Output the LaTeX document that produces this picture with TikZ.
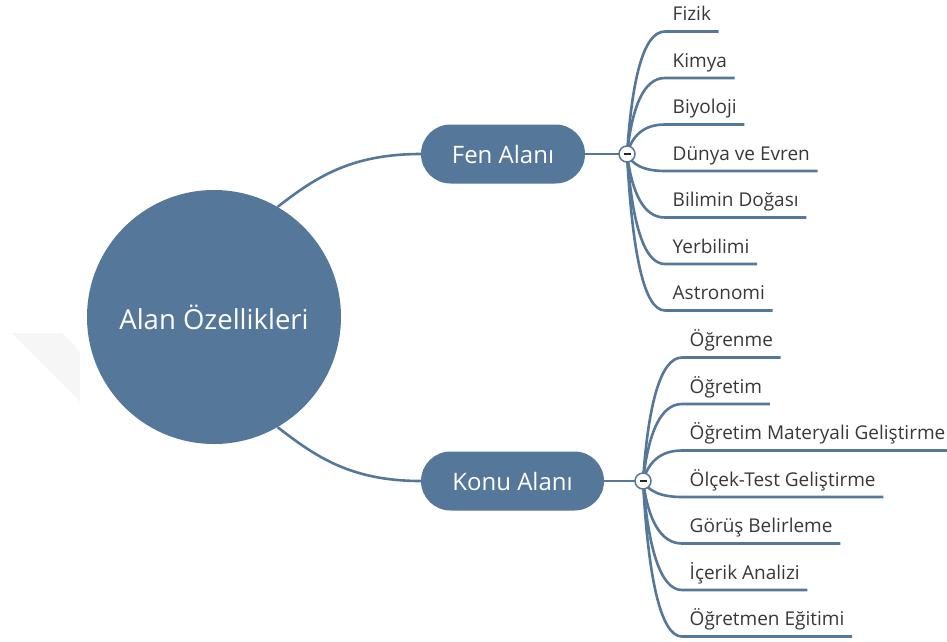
\documentclass[tikz,border=0pt]{standalone}
\usepackage{fontspec}
\setmainfont{Open Sans}
\usetikzlibrary{calc,backgrounds}
\definecolor{nodeblue}{HTML}{55779A}
\definecolor{leaftext}{HTML}{383838}
\begin{document}
\begin{tikzpicture}[x=1pt,y=-1pt,
  branch/.style={draw=nodeblue, line width=2.6pt},
  rootnode/.style={circle, fill=nodeblue, minimum size=254pt, inner sep=0pt,
    text=white, font=\fontsize{27.5}{33}\selectfont},
  topic/.style={fill=nodeblue, rounded corners=29.5pt, minimum height=59pt,
    inner sep=0pt, text=white, font=\fontsize{24}{29}\selectfont},
  toggle/.style={circle, draw=nodeblue, line width=1.5pt, fill=white,
    minimum size=16pt, inner sep=0pt,
    path picture={\draw[line width=1.4pt, black!85]
      ($(path picture bounding box.center)+(-3.5,0)$) -- ++(7,0);}},
  leaf/.style={anchor=south west, inner xsep=7.5pt, inner ysep=0pt,
    text height=14pt, text depth=10.5pt, text=leaftext,
    font=\fontsize{19}{22}\selectfont}]
\useasboundingbox (0,0) rectangle (947,641);

% faint backdrop shape on the left
\fill[gray!7] (12,333) -- (62,333) -- (80,352) -- (80,402) -- cycle;

% centre and main topics
\node[rootnode] (root) at (214,317) {Alan Özellikleri};
\node[topic, minimum width=164pt] (fen) at (503,154) {Fen Alanı};
\node[topic, minimum width=183pt] (konu) at (512.5,481) {Konu Alanı};
\node[toggle] (fent) at (627,154) {};
\node[toggle] (konut) at (643,481) {};

\begin{scope}[on background layer]
  \draw[branch] (root.60) .. controls (315,178) and (350,154) .. (fen.west);
  \draw[branch] (root.-60) .. controls (315,456) and (350,481) .. (konu.west);
  \draw[branch] (fen.east) -- (fent.center);
  \draw[branch] (konu.east) -- (konut.center);

  % Fen Alanı subtopics
  \foreach \i/\t in {0/Fizik, 1/Kimya, 2/Biyoloji, 3/Dünya ve Evren,
                     4/Bilimin Doğası, 5/Yerbilimi, 6/Astronomi} {
    \pgfmathsetmacro\ly{171+(\i-3)*46.5}
    \node[leaf] (fen\i) at (665,\ly) {\t};
    \draw[branch] (fent.center)
      .. controls ($(fent.center)+(5,{0.6*(\ly-154)})$)
      and ($(fen\i.south west)+(-22,0)$) .. (fen\i.south west)
      -- (fen\i.south east);
  }

  % Konu Alanı subtopics
  \foreach \i/\t in {0/Öğrenme, 1/Öğretim, 2/Öğretim Materyali Geliştirme,
                     3/Ölçek-Test Geliştirme, 4/Görüş Belirleme,
                     5/İçerik Analizi, 6/Öğretmen Eğitimi} {
    \pgfmathsetmacro\ly{497+(\i-3)*46.5}
    \node[leaf] (konu\i) at (682,\ly) {\t};
    \draw[branch] (konut.center)
      .. controls ($(konut.center)+(5,{0.6*(\ly-481)})$)
      and ($(konu\i.south west)+(-22,0)$) .. (konu\i.south west)
      -- (konu\i.south east);
  }
\end{scope}
\end{tikzpicture}
\end{document}
